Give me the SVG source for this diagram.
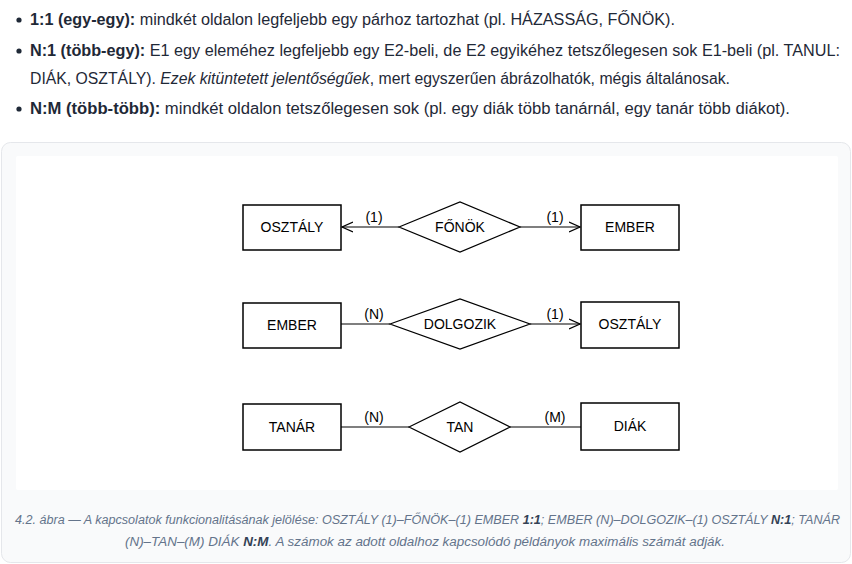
<svg xmlns="http://www.w3.org/2000/svg" width="852" height="564" viewBox="0 0 852 564">
<defs>
<style>
.body{font-family:"Liberation Sans",Arial,sans-serif;font-size:16px;fill:#1f2937}
.b{font-weight:bold}
.it{font-style:italic}
.ent{fill:#fff;stroke:#000;stroke-width:1.5}
.rel{fill:#fff;stroke:#000;stroke-width:1.2}
.lbl{font-family:"Liberation Sans",Arial,sans-serif;font-size:14px;fill:#000;text-anchor:middle}
.card{font-family:"Liberation Sans",Arial,sans-serif;font-size:14px;fill:#000;text-anchor:middle}
.conn{stroke:#000;stroke-width:1.2;fill:none}
.cap{font-family:"Liberation Sans",Arial,sans-serif;font-size:12.5px;font-style:italic;fill:#64748b}
.capb{font-weight:bold;fill:#334155}
</style>
<marker id="arr" viewBox="0 0 12 12" refX="11" refY="6" markerWidth="12" markerHeight="12" markerUnits="userSpaceOnUse" orient="auto">
<path d="M0,1 L11,6 L0,11" fill="none" stroke="#000" stroke-width="1.2"/>
</marker>
</defs>
<rect width="852" height="564" fill="#fff"/>
<g id="text-top">
<circle cx="19" cy="20" r="2.6" fill="#1f2937"/>
<text class="body" x="30" y="25" textLength="645" lengthAdjust="spacingAndGlyphs"><tspan class="b">1:1 (egy-egy):</tspan> mindkét oldalon legfeljebb egy párhoz tartozhat (pl. HÁZASSÁG, FŐNÖK).</text>
<circle cx="19" cy="51" r="2.6" fill="#1f2937"/>
<text class="body" x="30" y="56" textLength="810" lengthAdjust="spacingAndGlyphs"><tspan class="b">N:1 (több-egy):</tspan> E1 egy eleméhez legfeljebb egy E2-beli, de E2 egyikéhez tetszőlegesen sok E1-beli (pl. TANUL:</text>
<text class="body" x="30" y="84" textLength="700" lengthAdjust="spacingAndGlyphs">DIÁK, OSZTÁLY). <tspan class="it">Ezek kitüntetett jelentőségűek</tspan>, mert egyszerűen ábrázolhatók, mégis általánosak.</text>
<circle cx="19" cy="109" r="2.6" fill="#1f2937"/>
<text class="body" x="30" y="114" textLength="760" lengthAdjust="spacingAndGlyphs"><tspan class="b">N:M (több-több):</tspan> mindkét oldalon tetszőlegesen sok (pl. egy diák több tanárnál, egy tanár több diákot).</text>
</g>
<rect x="1.5" y="142.5" width="849" height="420" rx="9" fill="#f9fafb" stroke="#e5e7eb"/>
<rect x="16" y="156" width="822" height="334" rx="2" fill="#fff"/>
<g id="connectors">
<line class="conn" x1="399" y1="227" x2="342" y2="227" marker-end="url(#arr)"/>
<line class="conn" x1="520" y1="227" x2="580" y2="227" marker-end="url(#arr)"/>
<line class="conn" x1="341" y1="324" x2="390" y2="324"/>
<line class="conn" x1="530" y1="324" x2="580" y2="324" marker-end="url(#arr)"/>
<line class="conn" x1="341" y1="427" x2="409" y2="427"/>
<line class="conn" x1="510" y1="427" x2="581" y2="427"/>
<text class="card" x="374" y="222">(1)</text>
<text class="card" x="555" y="222">(1)</text>
<text class="card" x="374" y="319">(N)</text>
<text class="card" x="555" y="319">(1)</text>
<text class="card" x="374" y="422">(N)</text>
<text class="card" x="555" y="422">(M)</text>
</g>
<g id="osztaly1"><rect class="ent" x="243" y="205" width="98" height="45"/><text class="lbl" x="292" y="232">OSZTÁLY</text></g>
<g id="fonok"><polygon class="rel" points="399,227 460,202 520,227 460,252"/><text class="lbl" x="460" y="232">FŐNÖK</text></g>
<g id="ember1"><rect class="ent" x="581" y="205" width="98" height="45"/><text class="lbl" x="630" y="232">EMBER</text></g>
<g id="ember2"><rect class="ent" x="243" y="303" width="98" height="45"/><text class="lbl" x="292" y="330">EMBER</text></g>
<g id="dolgozik"><polygon class="rel" points="390,324 460,299 530,324 460,349"/><text class="lbl" x="460" y="329">DOLGOZIK</text></g>
<g id="osztaly2"><rect class="ent" x="581" y="302" width="98" height="46"/><text class="lbl" x="630" y="329">OSZTÁLY</text></g>
<g id="tanar"><rect class="ent" x="243" y="404" width="98" height="46"/><text class="lbl" x="292" y="432">TANÁR</text></g>
<g id="tan"><polygon class="rel" points="409,427 460,402 510,427 460,452"/><text class="lbl" x="460" y="432">TAN</text></g>
<g id="diak"><rect class="ent" x="581" y="403" width="98" height="47"/><text class="lbl" x="630" y="431">DIÁK</text></g>
<g id="caption">
<text class="cap" x="15" y="524" textLength="825" lengthAdjust="spacingAndGlyphs">4.2. ábra — A kapcsolatok funkcionalitásának jelölése: OSZTÁLY (1)–FŐNÖK–(1) EMBER <tspan class="capb">1:1</tspan>; EMBER (N)–DOLGOZIK–(1) OSZTÁLY <tspan class="capb">N:1</tspan>; TANÁR</text>
<text class="cap" x="125" y="546" textLength="600" lengthAdjust="spacingAndGlyphs">(N)–TAN–(M) DIÁK <tspan class="capb">N:M</tspan>. A számok az adott oldalhoz kapcsolódó példányok maximális számát adják.</text>
</g>
</svg>
